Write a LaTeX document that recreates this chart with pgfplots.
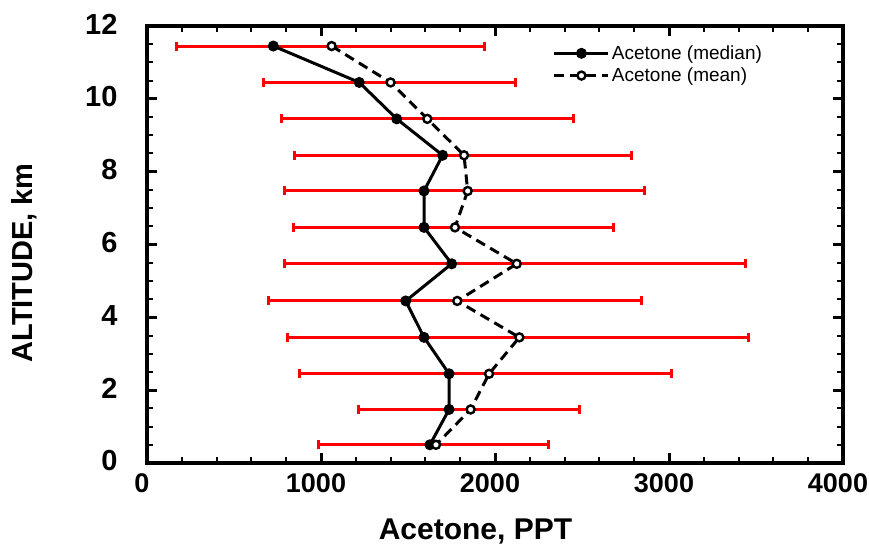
\documentclass[border=0pt]{standalone}
\usepackage{graphicx}
\usepackage{fontspec}
\setmainfont{Liberation Sans}
\usepackage{pgfplots}
\pgfplotsset{compat=1.18}
\begin{document}
\begin{tikzpicture}
\path[use as bounding box] (-147pt,-86pt) rectangle (722pt,463pt);
\begin{axis}[
  at={(0pt,0pt)}, anchor=south west,
  scale only axis, width=696pt, height=437pt,
  xmin=0, xmax=4000, ymin=0, ymax=12,
  xtick={0,1000,2000,3000,4000}, ytick={0,2,4,6,8,10,12},
  minor x tick num=4, minor y tick num=3,
  tick align=inside,
  axis line style={line width=3.5pt},
  major tick length=10pt, minor tick length=6pt,
  major tick style={line width=3pt, black},
  minor tick style={line width=2pt, black},
  xticklabel={\pgfmathprintnumber[assume math mode=true,1000 sep={}]{\tick}},
  yticklabel={\pgfmathprintnumber[assume math mode=true,1000 sep={}]{\tick}},
  xticklabel style={font=\fontsize{27}{27}\selectfont\bfseries, xshift=-5pt, yshift=-7pt},
  yticklabel style={font=\fontsize{29}{29}\selectfont\bfseries, xshift=-26pt, yshift=2pt},
  xlabel={Acetone, PPT},
  ylabel={ALTITUDE, km},
  xlabel style={font=\fontsize{30}{30}\selectfont\bfseries, at={(axis description cs:0.472,-0.176)}, anchor=base},
  ylabel style={font=\fontsize{29}{29}\selectfont\bfseries, at={(axis description cs:-0.177,0.458)}, anchor=center},
  legend style={at={(axis description cs:0.583,0.96)}, anchor=north west, draw=none, fill=none,
     font=\fontsize{19}{19}\selectfont, inner sep=0pt, row sep=3pt},
  legend cell align=left,
  legend image code/.code={\draw[mark repeat=2,mark phase=2,#1] plot coordinates {(0pt,0pt) (27pt,0pt) (54pt,0pt)};},
]
% red error bars (mean +- spread)
\addplot[red, only marks, mark=none, forget plot,
  error bars/.cd, x dir=both, x explicit, error mark=|,
  error bar style={line width=3pt, red},
  error mark options={line width=3pt, red, mark size=4.5pt}]
  coordinates {
  (1055,11.45) +- (885,0)
  (1393,10.45) +- (724,0)
  (1612,9.45) +- (838,0)
  (1816,8.45) +- (971,0)
  (1823,7.47) +- (1035,0)
  (1762,6.47) +- (918,0)
  (2114,5.47) +- (1325,0)
  (1771,4.45) +- (1070,0)
  (2132,3.45) +- (1326,0)
  (1948,2.45) +- (1069,0)
  (1850,1.47) +- (637,0)
  (1647,0.50) +- (663,0)
  };
% median
\addplot[black, line width=3pt, mark=*, mark size=5pt, mark options={solid, fill=black, line width=1pt}]
  coordinates {
  (726,11.45) (1220,10.45) (1435,9.45) (1699,8.45) (1592,7.47) (1592,6.47)
  (1751,5.47) (1487,4.45) (1592,3.45) (1736,2.45) (1736,1.47) (1626,0.50)
  };
\addlegendentry{Acetone (median)}
% mean
\addplot[black, line width=3pt, dash pattern=on 10pt off 6pt, mark=*, mark size=4pt,
  mark options={solid, fill=white, draw=black, line width=2.4pt}]
  coordinates {
  (1061,11.45) (1400,10.45) (1611,9.45) (1822,8.45) (1843,7.47) (1770,6.47)
  (2125,5.47) (1783,4.45) (2140,3.45) (1966,2.45) (1860,1.47) (1661,0.50)
  };
\addlegendentry{Acetone (mean)}
\end{axis}
\end{tikzpicture}
\end{document}
